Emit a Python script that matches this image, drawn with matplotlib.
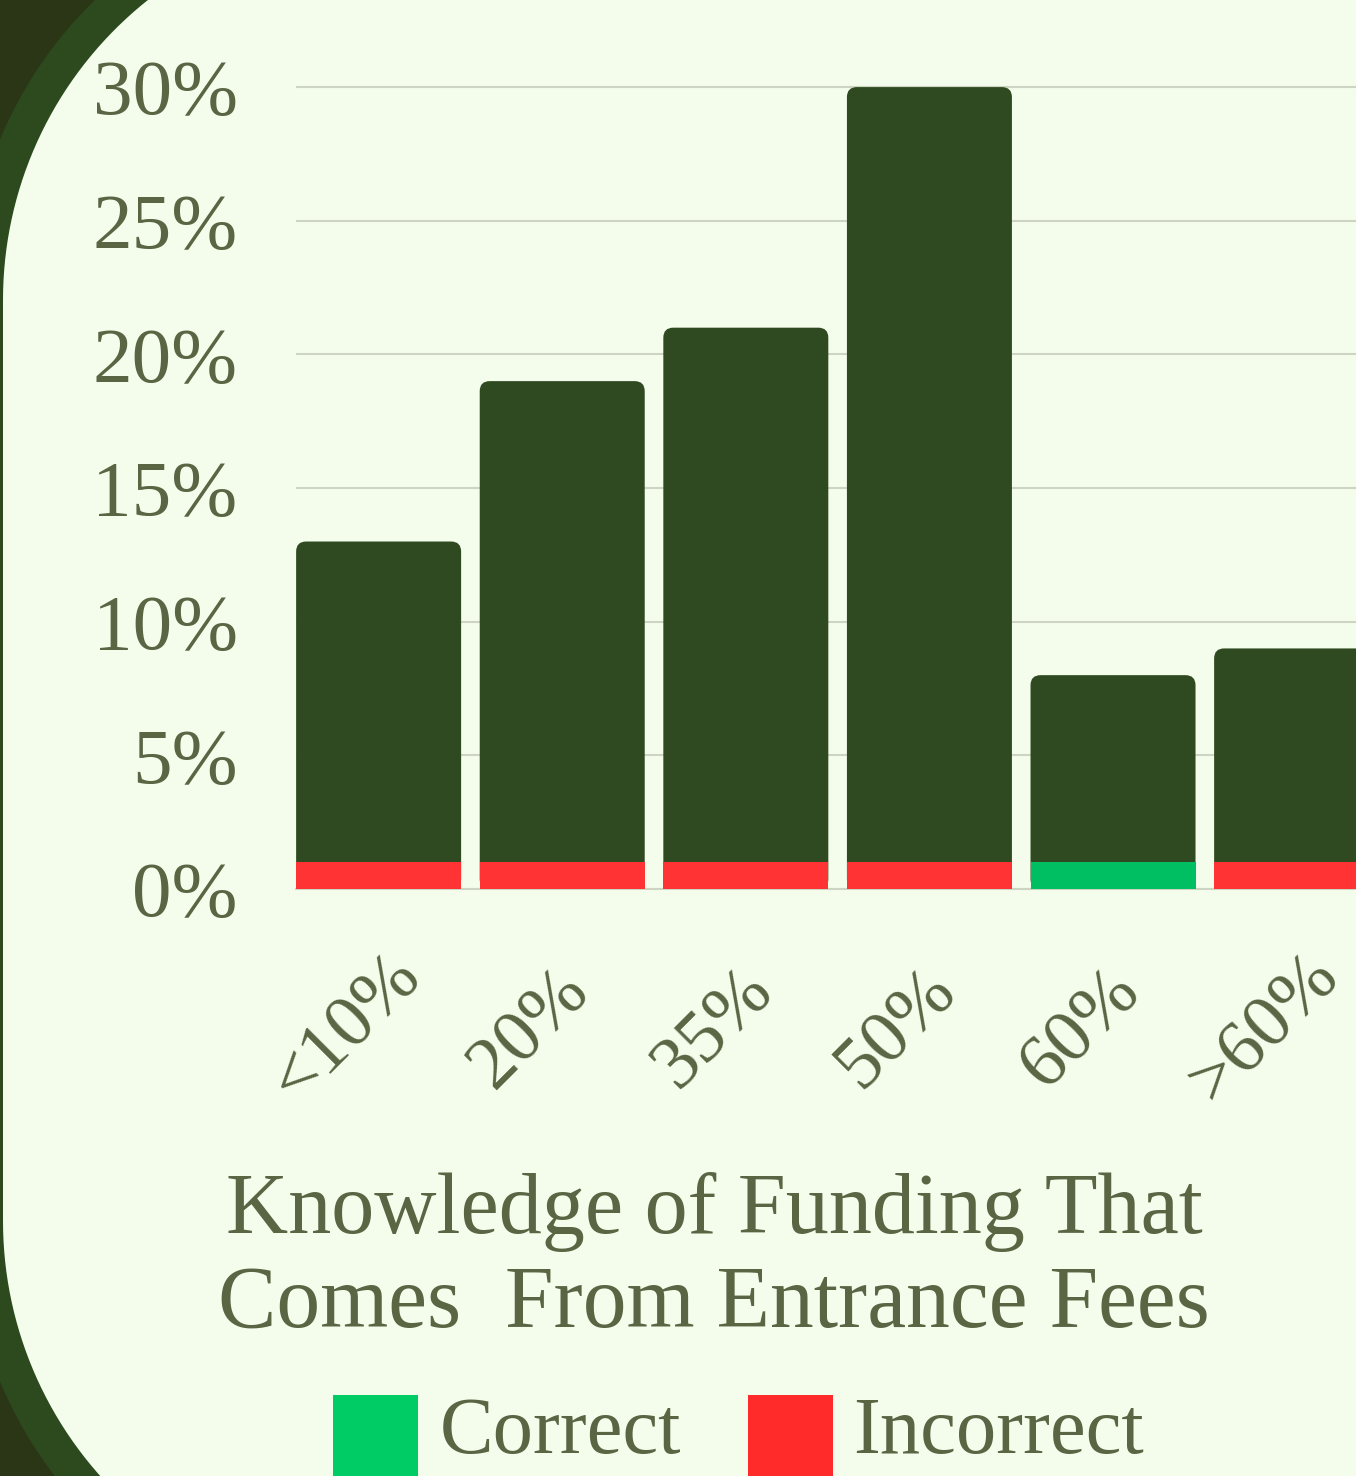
import numpy as np
import matplotlib.pyplot as plt
from matplotlib.patches import FancyBboxPatch, Rectangle, Polygon
from matplotlib.transforms import IdentityTransform, ScaledTranslation

# data
categories = ['<10%', '20%', '35%', '50%', '60%', '>60%']
share = [13, 19, 21, 30, 8, 9]
answer = ['Incorrect', 'Incorrect', 'Incorrect', 'Incorrect', 'Correct', 'Incorrect']
yticks = [0, 5, 10, 15, 20, 25, 30]

STRIP = 1  # height of the correct/incorrect band at the bottom of each bar
W, H = 1356, 1476
DARK = '#2f4a20'
TEXT = '#5a6544'
PANEL = '#f4fdec'
answer_colors = {'Correct': '#00bf63', 'Incorrect': '#ff3333'}
legend_colors = {'Correct': '#00cc66', 'Incorrect': '#ff2a2a'}
FONT = 'Liberation Serif'

fig = plt.figure(figsize=(W / 100, H / 100), dpi=100)
fig.patch.set_facecolor('#2a3616')


def rounded_left(radius, cx=386, cy_top=300, cy_bot=1221):
    """Outline with circular left corners, in display pixels."""
    t1 = np.linspace(np.pi / 2, np.pi, 60)
    t2 = np.linspace(np.pi, 1.5 * np.pi, 60)
    top = np.c_[cx + radius * np.cos(t1), (H - cy_top) + radius * np.sin(t1)]
    bot = np.c_[cx + radius * np.cos(t2), (H - cy_bot) + radius * np.sin(t2)]
    right = np.array([[3000, -500], [3000, 2500]])
    return np.vstack([top, bot, right])


# background: green ring + light panel
fig.add_artist(Polygon(rounded_left(418), closed=True, transform=IdentityTransform(),
                       facecolor='#2d4a1f', edgecolor='none', zorder=0))
fig.add_artist(Polygon(rounded_left(383), closed=True, transform=IdentityTransform(),
                       facecolor=PANEL, edgecolor='none', zorder=0))

# axes placement in pixels
left_px, zero_px, step_px, unit_px = 296, 889, 183.6, 26.73
ytop = 31
ax = fig.add_axes([left_px / W, (H - zero_px) / H,
                   (W - left_px) / W, ytop * unit_px / H])
ax.set_facecolor('none')
ax.set_xlim(-0.45, -0.45 + (W - left_px) / step_px)
ax.set_ylim(0, ytop)

bar_w = 165 / step_px
r = 10 / step_px
aspect = step_px / unit_px
for i, v in enumerate(share):
    box = FancyBboxPatch((i - bar_w / 2, 0), bar_w, v,
                         boxstyle=f'round,pad=0,rounding_size={r}',
                         mutation_aspect=aspect, facecolor=DARK,
                         edgecolor='none', zorder=3)
    ax.add_patch(box)
ax.bar(range(len(categories)), [STRIP] * len(categories), width=bar_w,
       color=[answer_colors[a] for a in answer], zorder=4)

# grid and axis
ax.set_yticks(yticks)
ax.set_yticklabels([f'{v}%' for v in yticks])
ax.grid(axis='y', color='#cdd5c2', linewidth=1.5, zorder=1)
ax.set_axisbelow(True)
for s in ['top', 'right', 'left']:
    ax.spines[s].set_visible(False)
ax.spines['bottom'].set_color('#cdd5c2')
ax.spines['bottom'].set_linewidth(1.5)
ax.tick_params(axis='y', length=0, pad=42, labelsize=57, labelcolor=TEXT)
ax.tick_params(axis='x', length=0, pad=0, labelsize=54, labelcolor=TEXT)
for lab in ax.get_yticklabels():
    lab.set_fontfamily(FONT)

ax.set_xticks(range(len(categories)))
ax.set_xticklabels(categories, rotation=45, rotation_mode='anchor',
                   ha='center', va='center', family=FONT)
shift = ScaledTranslation(-0.32, -1.40, fig.dpi_scale_trans)
for lab in ax.get_xticklabels():
    lab.set_transform(lab.get_transform() + shift)

# title
fig.text(714 / W, 1 - 1212 / H, 'Knowledge of Funding That',
         ha='center', va='center', fontsize=62, color=TEXT, family=FONT)
fig.text(714 / W, 1 - 1305 / H, 'Comes  From Entrance Fees',
         ha='center', va='center', fontsize=63, color=TEXT, family=FONT)

# legend
for x0, xt, key in [(333, 440, 'Correct'), (748, 853, 'Incorrect')]:
    fig.add_artist(Rectangle((x0, 0), 85, H - 1395, transform=IdentityTransform(),
                             facecolor=legend_colors[key], edgecolor='none'))
    fig.text(xt / W, 1 - 1433 / H, key, ha='left', va='center',
             fontsize=58, color=TEXT, family=FONT)

fig.savefig('out.png', dpi=100, facecolor=fig.get_facecolor())
